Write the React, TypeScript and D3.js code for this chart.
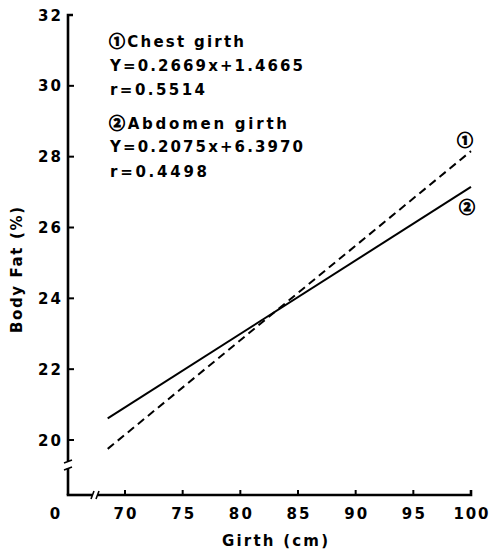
import React from "react";
import * as d3 from "d3";

// Regression of body fat on girth measurements
const xTicks = [70, 75, 80, 85, 90, 95, 100];
const yTicks = [20, 22, 24, 26, 28, 30, 32];
const girthRange = [68.5, 100];
const seriesNames = ["Chest girth", "Abdomen girth"];
const slopes = [0.2669, 0.2075];
const intercepts = [1.4665, 6.397];
const rValues = ["0.5514", "0.4498"];
const slopeLabels = ["0.2669", "0.2075"];
const interceptLabels = ["1.4665", "6.3970"];
const circled = ["\u2460", "\u2461"];

const W = 490;
const H = 554;
const circleFont = "'Noto Sans CJK JP', 'DejaVu Sans', sans-serif";

export default function App() {
  const x = d3.scaleLinear().domain([70, 100]).range([125, 471]);
  const y = d3.scaleLinear().domain([20, 32]).range([440, 15]);
  const axisX = 68;
  const axisY = 495;
  const font = "'DejaVu Sans', Verdana, sans-serif";

  const lines = slopes.map((s, k) => {
    const pts: [number, number][] = girthRange.map((g) => [x(g), y(s * g + intercepts[k])]);
    return d3.line()(pts) as string;
  });

  // text block layout for the two equations
  const blocks = [
    { base: [47, 71, 95], widths: [135, 193, 95] },
    { base: [129, 152, 177], widths: [178, 193, 97] },
  ];

  return (
    <svg
      width={W}
      height={H}
      style={{ position: "absolute", left: 0, top: 0, background: "#fff" }}
      fontFamily={font}
      fontWeight="bold"
    >
      {/* y axis with break */}
      <path d={`M${axisX},${axisY}V468`} stroke="#000" strokeWidth={2.6} fill="none" />
      <path d={`M${axisX},461V${y(32)}h5`} stroke="#000" strokeWidth={2.6} fill="none" />
      <path d={`M${axisX - 4},470 l8,-3 M${axisX - 4},463 l8,-3`} stroke="#000" strokeWidth={1.6} />
      {yTicks.map((t) => (
        <g key={t}>
          {t !== 32 && (
            <line x1={axisX} x2={axisX + 6} y1={y(t)} y2={y(t)} stroke="#000" strokeWidth={2} />
          )}
          <text
            x={61}
            y={y(t) + 5.5}
            textAnchor="end"
            fontSize={15}
            textLength={23}
            lengthAdjust="spacing"
          >
            {t}
          </text>
        </g>
      ))}

      {/* x axis with break */}
      <path d={`M${axisX - 1.3},${axisY}H92`} stroke="#000" strokeWidth={2.6} fill="none" />
      <path d={`M98,${axisY}H${x(100)}v-5`} stroke="#000" strokeWidth={2.6} fill="none" />
      <path d={`M91,${axisY + 4} l3,-8 M96,${axisY + 4} l3,-8`} stroke="#000" strokeWidth={1.6} />
      {xTicks.map((t) => (
        <g key={t}>
          {t !== 100 && (
            <line x1={x(t)} x2={x(t)} y1={axisY} y2={axisY - 5} stroke="#000" strokeWidth={2} />
          )}
          <text
            x={x(t)}
            y={519}
            textAnchor="middle"
            fontSize={15}
            textLength={t >= 100 ? 35 : 23}
            lengthAdjust="spacing"
          >
            {t}
          </text>
        </g>
      ))}
      <text x={55} y={519} textAnchor="middle" fontSize={15}>
        0
      </text>

      {/* axis titles */}
      <text x={275} y={546} textAnchor="middle" fontSize={15} textLength={106} lengthAdjust="spacing">
        Girth (cm)
      </text>
      <text
        transform="translate(22,270) rotate(-90)"
        textAnchor="middle"
        fontSize={15}
        textLength={126}
        lengthAdjust="spacing"
      >
        Body Fat (%)
      </text>

      {/* regression lines */}
      <path d={lines[0]} stroke="#000" strokeWidth={2} fill="none" strokeDasharray="8,5" />
      <path d={lines[1]} stroke="#000" strokeWidth={2} fill="none" />
      <text
        x={465}
        y={146}
        textAnchor="middle"
        fontSize={16}
        fontFamily={circleFont}
        stroke="#000"
        strokeWidth={0.9}
      >
        {circled[0]}
      </text>
      <text
        x={467}
        y={213}
        textAnchor="middle"
        fontSize={16}
        fontFamily={circleFont}
        stroke="#000"
        strokeWidth={0.9}
      >
        {circled[1]}
      </text>

      {/* equations */}
      {[0, 1].map((k) => {
        const b = blocks[k];
        return (
          <g key={k} fontSize={15}>
            <text x={109} y={b.base[0]} textLength={b.widths[0]} lengthAdjust="spacing">
              <tspan fontFamily={circleFont} fontSize={16} stroke="#000" strokeWidth={0.9}>
                {circled[k]}
              </tspan>
              {seriesNames[k]}
            </text>
            <text x={110} y={b.base[1]} textLength={b.widths[1]} lengthAdjust="spacing">
              {`Y=${slopeLabels[k]}x+${interceptLabels[k]}`}
            </text>
            <text x={110} y={b.base[2]} textLength={b.widths[2]} lengthAdjust="spacing">
              {`r=${rValues[k]}`}
            </text>
          </g>
        );
      })}
    </svg>
  );
}
